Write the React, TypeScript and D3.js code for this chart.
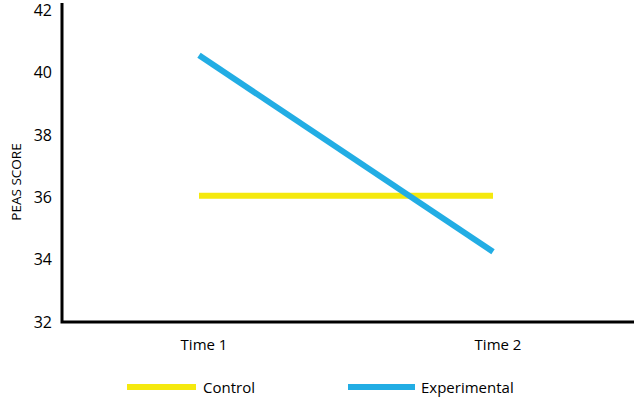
import { useEffect, useRef } from 'react';
import * as d3 from 'd3';

const times = ['Time 1', 'Time 2'];
const control = [36.05, 36.05];
const experimental = [40.55, 34.25];
const yTicks = [32, 34, 36, 38, 40, 42];

const seriesNames = ['Control', 'Experimental'];
const seriesColors = ['#f5e90e', '#22ade4'];

export default function App() {
  const svgRef = useRef<SVGSVGElement>(null);

  useEffect(() => {
    if (!svgRef.current) return;
    const svg = d3.select(svgRef.current);
    svg.selectAll('*').remove();

    const width = 634;
    const height = 401;
    const font = "'Open Sans', 'Lato', sans-serif";

    const axisX = 62;
    const axisY = 322;

    const x = d3.scalePoint<string>().domain(times).range([199, 493]);
    const y = d3.scaleLinear().domain([32, 42]).range([axisY, 10]);

    svg.attr('width', width).attr('height', height);

    // tick labels
    svg.append('g')
      .selectAll('text')
      .data(yTicks)
      .enter()
      .append('text')
      .attr('x', 52)
      .attr('y', d => y(d))
      .attr('dy', '0.36em')
      .attr('text-anchor', 'end')
      .attr('font-family', font)
      .attr('font-size', '16px')
      .attr('fill', '#000')
      .text(d => d);

    // y 축 레이블
    svg.append('text')
      .attr('transform', `translate(21,182) rotate(-90)`)
      .attr('text-anchor', 'middle')
      .attr('font-family', font)
      .attr('font-size', '13.5px')
      .attr('fill', '#000')
      .text('PEAS SCORE');

    // x labels
    svg.append('g')
      .selectAll('text')
      .data(times)
      .enter()
      .append('text')
      .attr('x', d => (x(d) || 0) + 5)
      .attr('y', 350)
      .attr('text-anchor', 'middle')
      .attr('font-family', font)
      .attr('font-size', '15px')
      .attr('fill', '#000')
      .text(d => d);

    // series lines
    const line = d3.line<number>()
      .x((_, i) => x(times[i]) || 0)
      .y(d => y(d));

    [control, experimental].forEach((vals, i) => {
      svg.append('path')
        .datum(vals)
        .attr('d', line)
        .attr('fill', 'none')
        .attr('stroke', seriesColors[i])
        .attr('stroke-width', 6);
    });

    // axes
    svg.append('path')
      .attr('d', `M${axisX},3V${axisY}H${width}`)
      .attr('fill', 'none')
      .attr('stroke', '#000')
      .attr('stroke-width', 3);

    // legend
    const legendX = [127, 348];
    const legend = svg.append('g')
      .selectAll('g')
      .data(seriesNames)
      .enter()
      .append('g')
      .attr('transform', (_, i) => `translate(${legendX[i]},387)`);

    legend.append('line')
      .attr('x1', 0)
      .attr('x2', (_, i) => (i === 0 ? 69 : 67))
      .attr('stroke', (_, i) => seriesColors[i])
      .attr('stroke-width', 6);

    legend.append('text')
      .attr('x', (_, i) => (i === 0 ? 76 : 73))
      .attr('y', 6)
      .attr('font-family', font)
      .attr('font-size', '15px')
      .attr('fill', '#000')
      .text(d => d);
  }, []);

  return <svg ref={svgRef} style={{ position: 'absolute', left: 0, top: 0 }}></svg>;
}
